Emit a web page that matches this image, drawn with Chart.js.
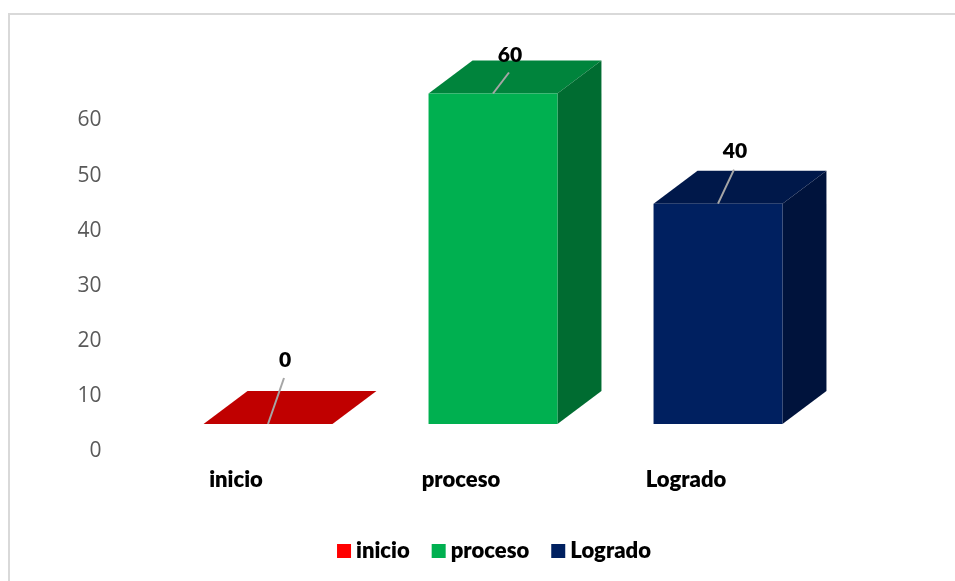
<!DOCTYPE html>
<html>
<head>
<meta charset="utf-8">
<title>inicio proceso Logrado</title>
<script src="https://cdn.jsdelivr.net/npm/chart.js@4"></script>
<style>
  html, body { margin: 0; padding: 0; background: #fff; overflow: hidden; }
  #frame { position: absolute; left: 8px; top: 13px; width: 947px; height: 568px; box-sizing: border-box;
           border-left: 2px solid #d9d9d9; border-top: 2px solid #d9d9d9; }
  #chart1 { position: absolute; left: 0; top: 0; }
</style>
</head>
<body>
<div id="frame"></div>
<canvas id="chart1" width="955" height="581"></canvas>
<script>
var categories = ["inicio", "proceso", "Logrado"];
var values = [0, 60, 40];
var yTicks = [0, 10, 20, 30, 40, 50, 60];

var legendColors = ["#ff0000", "#00b050", "#002060"];
var frontColors = ["#c00000", "#00b050", "#002060"];
var topColors = ["#c00000", "#00843c", "#00184a"];
var sideColors = ["#900000", "#006c31", "#00133c"];

//how far the label leader line goes up from each bar, and where the label sits
var leaderRise = [46, 21, 34];
var labelRise = [64, 38, 52];

//the fake 3d look
var shiftX = 32, shiftY = -27;
var depthX = 44, depthY = -33;

const boxes3d = {
  id: 'boxes3d',
  beforeDatasetDraw(chart) {
    var ctx = chart.ctx;
    ctx.save();
    ctx.translate(shiftX, shiftY);
    chart.getDatasetMeta(0).data.forEach(function (bar, i) {
      var left = bar.x - bar.width / 2;
      var right = bar.x + bar.width / 2;
      //top
      ctx.fillStyle = topColors[i];
      ctx.beginPath();
      ctx.moveTo(left, bar.y);
      ctx.lineTo(left + depthX, bar.y + depthY);
      ctx.lineTo(right + depthX, bar.y + depthY);
      ctx.lineTo(right, bar.y);
      ctx.closePath();
      ctx.fill();
      //side
      ctx.fillStyle = sideColors[i];
      ctx.beginPath();
      ctx.moveTo(right, bar.y);
      ctx.lineTo(right + depthX, bar.y + depthY);
      ctx.lineTo(right + depthX, bar.base + depthY);
      ctx.lineTo(right, bar.base);
      ctx.closePath();
      ctx.fill();
    });
  },
  afterDatasetDraw(chart) {
    chart.ctx.restore();
  }
};

const barLabels = {
  id: 'barLabels',
  afterDraw(chart) {
    var ctx = chart.ctx;
    ctx.save();
    chart.getDatasetMeta(0).data.forEach(function (bar, i) {
      var x = bar.x + shiftX;
      var y = bar.y + shiftY;
      ctx.strokeStyle = '#a6a6a6';
      ctx.lineWidth = 2;
      ctx.beginPath();
      ctx.moveTo(x, y);
      ctx.lineTo(x + 16, y - leaderRise[i]);
      ctx.stroke();
      ctx.fillStyle = '#000';
      ctx.font = '800 21px Lato';
      ctx.textAlign = 'center';
      ctx.textBaseline = 'middle';
      ctx.fillText(String(values[i]), x + 17, y - labelRise[i]);
    });
    ctx.restore();
  }
};

//legend by hand, the swatch to text gap is smaller than the built in one allows
const bottomLegend = {
  id: 'bottomLegend',
  afterDraw(chart) {
    var ctx = chart.ctx;
    var swatch = 14, gap = 5, between = 22;
    ctx.save();
    ctx.font = '800 22px Lato';
    ctx.textAlign = 'left';
    ctx.textBaseline = 'middle';
    var total = -between;
    categories.forEach(function (name) {
      total += swatch + gap + ctx.measureText(name).width + between;
    });
    var x = 494 - total / 2;
    categories.forEach(function (name, i) {
      ctx.fillStyle = legendColors[i];
      ctx.fillRect(x, 544, swatch, swatch);
      x += swatch + gap;
      ctx.fillStyle = '#000';
      ctx.fillText(name, x, 551);
      x += ctx.measureText(name).width + between;
    });
    ctx.restore();
  }
};

const config = {
  type: 'bar',
  data: {
    labels: categories,
    datasets: [{
      data: values,
      backgroundColor: frontColors,
      borderWidth: 0,
      categoryPercentage: 1,
      barPercentage: 0.573,
      clip: false
    }]
  },
  options: {
    responsive: false,
    animation: false,
    layout: { padding: { top: 120.5, right: 156.5, left: 0, bottom: 0 } },
    plugins: {
      legend: { display: false },
      tooltip: { enabled: false }
    },
    scales: {
      x: {
        grid: { display: false, drawTicks: false },
        border: { display: false },
        ticks: { color: '#000', padding: 16, maxRotation: 0, font: { family: 'Lato', weight: '800', size: 22 } },
        afterFit: function (axis) { axis.height = 130; }
      },
      y: {
        min: 0,
        max: 60,
        grid: { display: false, drawTicks: false },
        border: { display: false },
        afterBuildTicks: function (axis) { axis.ticks = yTicks.map(function (v) { return { value: v }; }); },
        ticks: { color: '#595959', padding: 22, font: { family: 'Open Sans', size: 21 } },
        afterFit: function (axis) { axis.width = 123.5; }
      }
    }
  },
  plugins: [boxes3d, barLabels, bottomLegend]
};

new Chart(document.getElementById('chart1'), config);
</script>
</body>
</html>
